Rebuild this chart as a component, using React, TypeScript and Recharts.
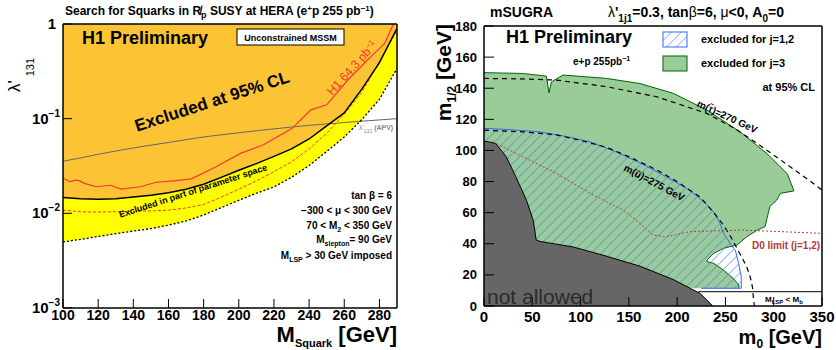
import React from "react";
import { ComposedChart, Area, Line, XAxis, YAxis } from "recharts";

const FONT = "'Liberation Sans', Arial, Helvetica, sans-serif";

// ---- left panel: limits on lambda'_131 vs squark mass
const squarkMass = [100, 110, 120, 130, 140, 150, 160, 170, 180, 190, 200, 210, 220, 230, 240, 250, 260, 270, 280, 290];
const limitExcluded = [0.0147, 0.0143, 0.0141, 0.0143, 0.0149, 0.0155, 0.0165, 0.018, 0.0203, 0.024, 0.0285, 0.0335, 0.04, 0.048, 0.061, 0.084, 0.115, 0.205, 0.39, 0.9];
const limitPartial = [0.005, 0.0053, 0.0057, 0.0061, 0.0065, 0.0069, 0.0075, 0.0083, 0.0096, 0.0115, 0.0137, 0.0163, 0.019, 0.024, 0.032, 0.045, 0.064, 0.098, 0.16, 0.34];
const limitExpected = [0.0108, 0.0104, 0.0103, 0.0104, 0.0105, 0.0106, 0.0108, 0.0114, 0.0124, 0.0148, 0.018, 0.022, 0.0276, 0.035, 0.048, 0.07, 0.112, 0.19, 0.4, 0.85];
const limitApv = [0.0355, 0.0385, 0.042, 0.0455, 0.049, 0.0525, 0.056, 0.06, 0.064, 0.0675, 0.071, 0.0745, 0.078, 0.0815, 0.085, 0.088, 0.091, 0.094, 0.097, 0.1];
const h1OldMass = [100, 104, 108, 113, 119, 127, 133, 144, 153, 163, 173, 187, 201, 214, 230, 241, 250, 262, 275, 283, 288];
const h1OldLambda = [0.0235, 0.0216, 0.0225, 0.0205, 0.0191, 0.0198, 0.018, 0.0191, 0.0213, 0.022, 0.0231, 0.031, 0.043, 0.053, 0.078, 0.124, 0.14, 0.256, 0.45, 0.625, 1.0];

const massTicks = [100, 120, 140, 160, 180, 200, 220, 240, 260, 280];
const massMinor = [100, 105, 110, 115, 120, 125, 130, 135, 140, 145, 150, 155, 160, 165, 170, 175, 180, 185, 190, 195, 200, 205, 210, 215, 220, 225, 230, 235, 240, 245, 250, 255, 260, 265, 270, 275, 280, 285];
const lambdaTicks = [0.001, 0.01, 0.1, 1];
const lambdaMinor = [0.002, 0.003, 0.004, 0.005, 0.006, 0.007, 0.008, 0.009, 0.02, 0.03, 0.04, 0.05, 0.06, 0.07, 0.08, 0.09, 0.2, 0.3, 0.4, 0.5, 0.6, 0.7, 0.8, 0.9];

// ---- right panel: mSUGRA plane
const notAllowedM0 = [0, 5, 12, 23, 33, 44, 51, 54, 58, 92, 127, 162, 196, 224, 237];
const notAllowedM12 = [106, 105.5, 104.5, 96, 83, 68, 55, 42.5, 41.5, 38, 32, 25.5, 17, 8, 0];
const excl3M0 = [0, 40, 64.6, 67.3, 69.8, 81.8, 127, 161.5, 196, 230.7, 265, 293, 314, 321, 307, 303, 296, 291, 283, 272, 262, 248, 238, 231, 231, 238, 248, 258, 264, 264];
const excl3M12 = [150, 149.5, 147.8, 137, 144, 148.5, 146.3, 143, 136.7, 126, 112, 98, 85, 74, 72.4, 68, 64, 51, 48.8, 44.5, 39.2, 37.1, 33.9, 29.6, 28.5, 27.4, 23.1, 17.8, 13.5, 11.4];
const excl12M0 = [0, 23, 57.6, 85, 110, 137, 161.5, 189, 210, 221, 229, 237, 241, 244.5, 248, 255, 258.4, 260.2, 263.6, 266.4, 266.4, 225];
const excl12M12 = [114.2, 113.5, 112, 109, 105.5, 99, 92, 83, 75.5, 70.5, 66, 61, 57.2, 53.1, 46.7, 40.3, 37.1, 36, 27.4, 18.8, 11.4, 11.4];
const stauM0 = [0, 40, 75, 127, 179, 230.7, 260, 282.6, 300, 317, 335, 350];
const stauM12 = [146.3, 146, 145.2, 141, 134.5, 123.8, 114, 104.6, 97, 89.5, 81.5, 74.6];
const upM0 = [0, 40, 75, 100, 127, 150, 179, 200, 224, 238, 248, 256, 262, 268, 272, 276, 278, 279, 280];
const upM12 = [113, 112, 110, 106.5, 102, 96, 87.5, 80, 70, 60, 52, 44, 37, 30, 25.3, 18, 12, 5, 0];
const d0M0 = [9, 40, 75, 110, 144, 161.5, 175, 189, 213, 265, 300, 350];
const d0M12 = [105.6, 96, 85.3, 72.4, 61.7, 53.1, 45.6, 44.5, 47.8, 48.8, 48, 46.7];
const lspM0 = [222, 350];
const lspM12 = [9.2, 9.2];

const m0Ticks = [0, 50, 100, 150, 200, 250, 300, 350];
const m0Minor = [0, 10, 20, 30, 40, 50, 60, 70, 80, 90, 100, 110, 120, 130, 140, 150, 160, 170, 180, 190, 200, 210, 220, 230, 240, 250, 260, 270, 280, 290, 300, 310, 320, 330, 340];
const m12Ticks = [0, 20, 40, 60, 80, 100, 120, 140, 160, 180];
const m12Minor = [0, 5, 10, 15, 20, 25, 30, 35, 40, 45, 50, 55, 60, 65, 70, 75, 80, 85, 90, 95, 100, 105, 110, 115, 120, 125, 130, 135, 140, 145, 150, 155, 160, 165, 170, 175];

const zip = (xs: number[], ys: number[]) => xs.map((x, i) => ({ x, y: ys[i] }));

const leftRows = squarkMass.map((m, i) => ({
  x: m,
  excluded: [limitExcluded[i], 1],
  partial: [limitPartial[i], limitExcluded[i]],
  obs: limitExcluded[i],
  low: limitPartial[i],
  exp: limitExpected[i],
  apv: limitApv[i],
}));

const frame = { stroke: "#000", strokeWidth: 1.5 };

const MassTick = (p: any) => (
  <text x={p.x} y={p.y + 7} textAnchor="middle" fontFamily={FONT} fontSize={14} fontWeight="bold" fill="#000">
    {p.payload.value}
  </text>
);

const LambdaTick = (p: any) => {
  const e = Math.round(Math.log10(p.payload.value));
  return (
    <text x={e === 0 ? p.x - 4 : p.x} y={p.y + 5} textAnchor="end" fontFamily={FONT} fontSize={15} fontWeight="bold" fill="#000">
      {e === 0 ? "1" : (
        <>
          <tspan>10</tspan>
          <tspan dy={-7} fontSize={10}>{"\u2212" + -e}</tspan>
        </>
      )}
    </text>
  );
};

const M0Tick = (p: any) => (
  <text x={p.x} y={p.y + 10.5} textAnchor="middle" fontFamily={FONT} fontSize={15} fontWeight="bold" fill="#000">
    {p.payload.value}
  </text>
);

const M12Tick = (p: any) => (
  <text x={p.x} y={p.y + 4.5} textAnchor="end" fontFamily={FONT} fontSize={13} fontWeight="bold" fill="#000">
    {p.payload.value}
  </text>
);

function LambdaPanel() {
  return (
    <ComposedChart width={418} height={350} data={leftRows} margin={{ top: 24, right: 21, bottom: 22, left: 0 }}>
      <XAxis xAxisId="x" type="number" dataKey="x" domain={[100, 290]} allowDataOverflow ticks={massTicks} interval={0}
        height={20} stroke="#000" axisLine={frame} tickSize={-9} tickMargin={14} tick={MassTick} />
      <XAxis xAxisId="xm" type="number" dataKey="x" domain={[100, 290]} allowDataOverflow ticks={massMinor} interval={0}
        height={1} mirror stroke="#000" axisLine={false} tick={false} tickSize={5} />
      <XAxis xAxisId="xt" type="number" dataKey="x" orientation="top" mirror domain={[100, 290]} allowDataOverflow
        height={1} stroke="#000" axisLine={frame} tick={false} tickLine={false} />
      <YAxis yAxisId="y" type="number" scale="log" domain={[0.001, 1]} allowDataOverflow ticks={lambdaTicks} interval={0}
        width={63} stroke="#000" axisLine={frame} tickSize={-9} tickMargin={12} tick={LambdaTick} />
      <YAxis yAxisId="ym" type="number" scale="log" domain={[0.001, 1]} allowDataOverflow ticks={lambdaMinor} interval={0}
        width={1} mirror stroke="#000" axisLine={false} tick={false} tickSize={5} />
      <YAxis yAxisId="yr" type="number" scale="log" orientation="right" mirror domain={[0.001, 1]} allowDataOverflow
        width={1} stroke="#000" axisLine={frame} tick={false} tickLine={false} />

      <Area xAxisId="x" yAxisId="y" dataKey="excluded" fill="#fcc434" fillOpacity={1} stroke="none" isAnimationActive={false} />
      <Area xAxisId="x" yAxisId="y" dataKey="partial" fill="#ffff00" fillOpacity={1} stroke="none" isAnimationActive={false} />
      <Line xAxisId="x" yAxisId="y" dataKey="apv" stroke="#666" strokeWidth={1} dot={false} isAnimationActive={false} />
      <Line xAxisId="x" yAxisId="y" dataKey="exp" stroke="#ff3333" strokeWidth={1} strokeDasharray="3 2" dot={false} isAnimationActive={false} />
      <Line xAxisId="x" yAxisId="y" data={zip(h1OldMass, h1OldLambda)} dataKey="y" stroke="#ff3333" strokeWidth={1.2} dot={false} isAnimationActive={false} />
      <Line xAxisId="x" yAxisId="y" dataKey="low" stroke="#000" strokeWidth={1.3} strokeDasharray="2 2" dot={false} isAnimationActive={false} />
      <Line xAxisId="x" yAxisId="y" dataKey="obs" stroke="#000" strokeWidth={1.5} dot={false} isAnimationActive={false} />
    </ComposedChart>
  );
}

function SugraPanel() {
  return (
    <ComposedChart width={418} height={350} margin={{ top: 26, right: 14, bottom: 24, left: 0 }}>
      <XAxis xAxisId="x" type="number" dataKey="x" domain={[0, 350]} allowDataOverflow ticks={m0Ticks} interval={0}
        height={20} stroke="#000" axisLine={frame} tickSize={-9} tickMargin={14} tick={M0Tick} />
      <XAxis xAxisId="xm" type="number" dataKey="x" domain={[0, 350]} allowDataOverflow ticks={m0Minor} interval={0}
        height={1} mirror stroke="#000" axisLine={false} tick={false} tickSize={5} />
      <XAxis xAxisId="xt" type="number" dataKey="x" orientation="top" mirror domain={[0, 350]} allowDataOverflow
        height={1} stroke="#000" axisLine={frame} tick={false} tickLine={false} />
      <YAxis yAxisId="y" type="number" domain={[0, 180]} allowDataOverflow ticks={m12Ticks} interval={0}
        width={66} stroke="#000" axisLine={frame} tickSize={-10} tickMargin={17} tick={M12Tick} />
      <YAxis yAxisId="ym" type="number" domain={[0, 180]} allowDataOverflow ticks={m12Minor} interval={0}
        width={1} mirror stroke="#000" axisLine={false} tick={false} tickSize={6} />
      <YAxis yAxisId="yr" type="number" orientation="right" mirror domain={[0, 180]} allowDataOverflow
        width={1} stroke="#000" axisLine={frame} tick={false} tickLine={false} />

      <Area xAxisId="x" yAxisId="y" data={zip(excl3M0, excl3M12)} dataKey="y" baseValue={11.4} type="linear"
        fill="#99cc99" fillOpacity={1} stroke="#006600" strokeWidth={1} isAnimationActive={false} />
      <Area xAxisId="x" yAxisId="y" data={zip(excl12M0, excl12M12)} dataKey="y" baseValue={11.4} type="linear"
        fill="url(#hatch12)" fillOpacity={1} stroke="#3366ff" strokeWidth={1} isAnimationActive={false} />
      <Area xAxisId="x" yAxisId="y" data={zip(notAllowedM0, notAllowedM12)} dataKey="y" baseValue={0} type="linear"
        fill="#666666" fillOpacity={1} stroke="#000" strokeWidth={1} isAnimationActive={false} />
      <Line xAxisId="x" yAxisId="y" data={zip(lspM0, lspM12)} dataKey="y" stroke="#000" strokeWidth={1} dot={false} isAnimationActive={false} />
      <Line xAxisId="x" yAxisId="y" data={zip(stauM0, stauM12)} dataKey="y" stroke="#000" strokeWidth={1.2} strokeDasharray="5 4" dot={false} isAnimationActive={false} />
      <Line xAxisId="x" yAxisId="y" data={zip(upM0, upM12)} dataKey="y" stroke="#000" strokeWidth={1.2} strokeDasharray="5 4" dot={false} isAnimationActive={false} />
      <Line xAxisId="x" yAxisId="y" data={zip(d0M0, d0M12)} dataKey="y" stroke="#b04040" strokeWidth={1} strokeDasharray="2 2" dot={false} isAnimationActive={false} />
    </ComposedChart>
  );
}

function Labels() {
  const b = { fontFamily: FONT, fontWeight: "bold" as const, fill: "#000" };
  return (
    <svg width={836} height={350} style={{ position: "absolute", left: 0, top: 0, pointerEvents: "none" }}>
      <defs>
        <pattern id="hatch12" patternUnits="userSpaceOnUse" width={7} height={7} patternTransform="rotate(45)">
          <line x1={0} y1={0} x2={0} y2={7} stroke="#3a6cff" strokeWidth={1} />
        </pattern>
      </defs>

      {/* left panel */}
      <text x={65} y={15} fontSize={12} {...b}>
        Search for Squarks in R{"\u0338"}<tspan fontSize={9} dy={3}>p</tspan>
        <tspan dy={-3}> SUSY at HERA (e</tspan><tspan fontSize={8} dy={-4}>+</tspan>
        <tspan dy={4}>p 255 pb</tspan><tspan fontSize={8} dy={-4}>{"\u22121"}</tspan><tspan dy={4}>)</tspan>
      </text>
      <text x={82} y={44} fontSize={18} {...b}>H1 Preliminary</text>
      <rect x={237} y={29} width={107} height={16} fill="#fff" stroke="#000" strokeWidth={1} />
      <text x={290.5} y={40.5} fontSize={9} textAnchor="middle" {...b}>Unconstrained MSSM</text>
      <text transform="translate(212,101) rotate(-18)" y={6} fontSize={17} textAnchor="middle" {...b}>Excluded at 95% CL</text>
      <text transform="translate(352,68) rotate(-48)" y={4} fontSize={12} textAnchor="middle" fontFamily={FONT} fill="#ff3333">
        H1 64.3 pb<tspan fontSize={8} dy={-4}>{"\u22121"}</tspan>
      </text>
      <text transform="translate(193,191) rotate(-18)" y={3} fontSize={9} textAnchor="middle" {...b}>Excluded in part of parameter space</text>
      <text x={392} y={199} fontSize={10} textAnchor="end" {...b}>tan β = 6</text>
      <text x={392} y={214} fontSize={10} textAnchor="end" {...b}>{"\u2212300 < μ  < 300 GeV"}</text>
      <text x={392} y={229} fontSize={10} textAnchor="end" {...b}>
        70 &lt; M<tspan fontSize={7} dy={3}>2</tspan><tspan dy={-3}> &lt; 350 GeV</tspan>
      </text>
      <text x={392} y={243} fontSize={10} textAnchor="end" {...b}>
        M<tspan fontSize={7} dy={3}>slepton</tspan><tspan dy={-3}>= 90 GeV</tspan>
      </text>
      <text x={392} y={259} fontSize={10} textAnchor="end" {...b}>
        M<tspan fontSize={7} dy={3}>LSP</tspan><tspan dy={-3}> &gt; 30 GeV imposed</tspan>
      </text>
      <text x={359} y={130} fontSize={7} fontFamily={FONT} fill="#888">
        λ'<tspan fontSize={5} dy={3}>131</tspan><tspan dy={-3} fontWeight="bold"> (APV)</tspan>
      </text>
      <text transform="translate(20,92) rotate(-90)" fontSize={17} fontFamily={FONT} fill="#000">
        λ'<tspan fontSize={11} dx={4} dy={14}>131</tspan>
      </text>
      <text x={397} y={342} fontSize={22} textAnchor="end" {...b}>
        M<tspan fontSize={11} dy={5}>Squark</tspan><tspan dy={-5}> [GeV]</tspan>
      </text>

      {/* right panel */}
      <text x={490} y={17} fontSize={14} {...b}>mSUGRA</text>
      <text x={608} y={17} fontSize={14} {...b}>
        <tspan fontWeight="normal">λ</tspan>'<tspan fontSize={10} dy={5}>1j1</tspan>
        <tspan dy={-5}>=0.3, tan</tspan><tspan fontWeight="normal">β</tspan>=6, <tspan fontWeight="normal">μ</tspan>&lt;0, A<tspan fontSize={10} dy={5}>0</tspan><tspan dy={-5}>=0</tspan>
      </text>
      <text x={506} y={43} fontSize={18} {...b}>H1 Preliminary</text>
      <rect x={663} y={32} width={24} height={15} fill="url(#hatch12)" stroke="#3366ff" strokeWidth={1} />
      <text x={701} y={43} fontSize={11} {...b}>excluded for j=1,2</text>
      <rect x={663} y={56} width={24} height={15} fill="#99cc99" stroke="#006600" strokeWidth={1} />
      <text x={701} y={67} fontSize={11} {...b}>excluded for j=3</text>
      <text x={573} y={65} fontSize={10} {...b}>
        e+p 255pb<tspan fontSize={7} dy={-4}>{"\u22121"}</tspan>
      </text>
      <text x={815} y={91} fontSize={11} textAnchor="end" {...b}>at 95% CL</text>
      <text transform="translate(727,117) rotate(25)" y={3} fontSize={10} textAnchor="middle" {...b}>m(τ̃)=270 GeV</text>
      <text transform="translate(654,183) rotate(28)" y={3} fontSize={10} textAnchor="middle" {...b}>m(ũ)=275 GeV</text>
      <text x={752} y={249} fontSize={10} {...b} fill="#b03a3a">D0 limit (j=1,2)</text>
      <text x={765} y={302} fontSize={8} {...b}>
        M<tspan fontSize={6} dy={2}>LSP</tspan><tspan dy={-2}> &lt; M</tspan><tspan fontSize={6} dy={2}>b</tspan>
      </text>
      <text x={487} y={304} fontSize={21} fontFamily={FONT} fill="#2b2b2b">not allowed</text>
      <text transform="translate(451,24) rotate(-90)" fontSize={21} textAnchor="end" {...b}>
        m<tspan fontSize={12} dy={5}>1/2</tspan><tspan dy={-5}> [GeV]</tspan>
      </text>
      <text x={822} y={344} fontSize={20} textAnchor="end" {...b}>
        m<tspan fontSize={12} dy={4}>0</tspan><tspan dy={-4}> [GeV]</tspan>
      </text>
    </svg>
  );
}

export default function App() {
  return (
    <div style={{ position: "absolute", left: 0, top: 0, width: 836, height: 350, background: "#fff", fontFamily: FONT }}>
      <div style={{ position: "absolute", left: 0, top: 0 }}>
        <LambdaPanel />
      </div>
      <div style={{ position: "absolute", left: 418, top: 0 }}>
        <SugraPanel />
      </div>
      <Labels />
    </div>
  );
}
